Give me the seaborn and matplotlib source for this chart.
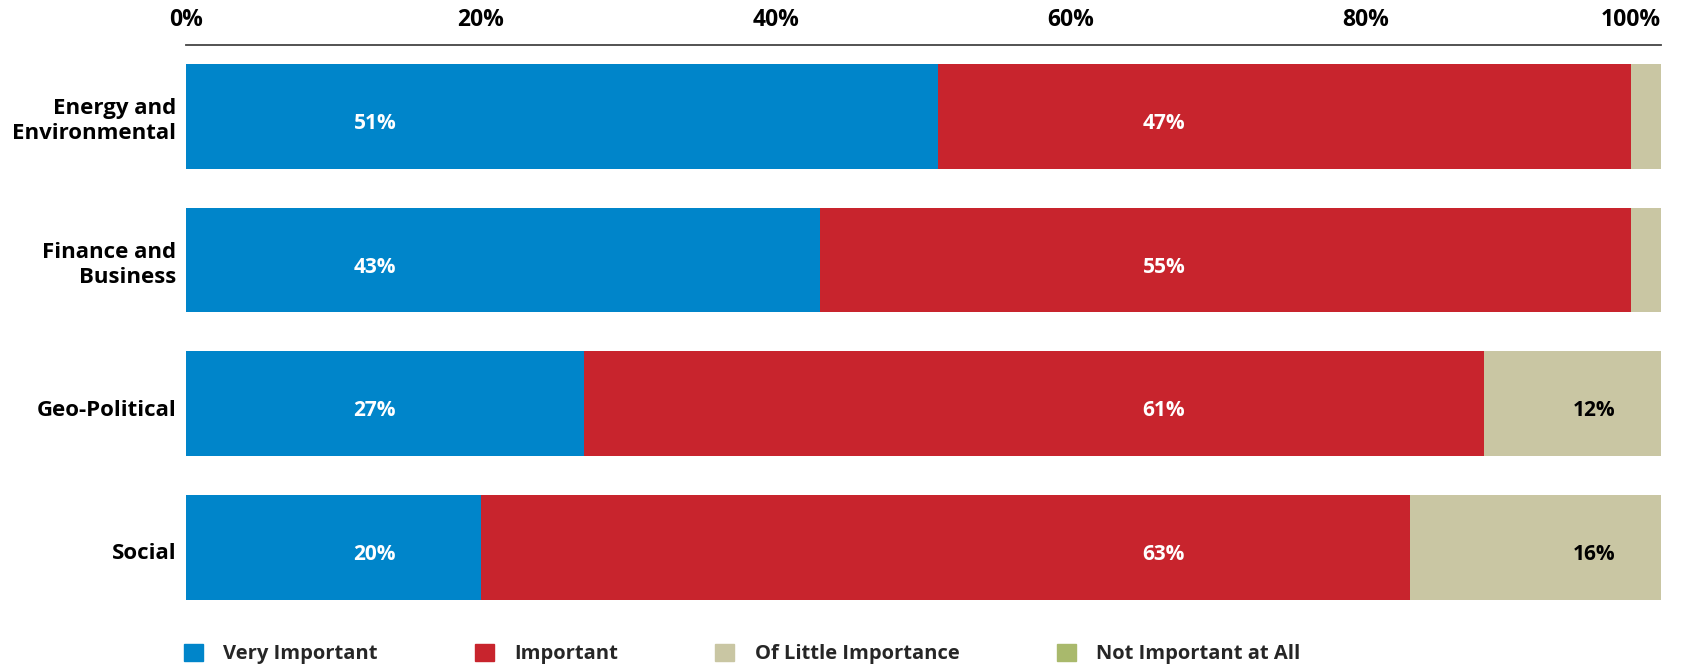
import matplotlib
matplotlib.use("Agg")
import matplotlib.pyplot as plt
import matplotlib.transforms as mtransforms
import seaborn as sns
import pandas as pd
import numpy as np
from matplotlib.patches import Patch

categories = ["Energy and\nEnvironmental", "Finance and\nBusiness", "Geo-Political", "Social"]
very_important = [51, 43, 27, 20]
important = [47, 55, 61, 63]
little_importance = [2, 2, 12, 17]
not_important = [0, 0, 0, 0]
series_names = ["Very Important", "Important", "Of Little Importance", "Not Important at All"]
colors = ["#0085CA", "#C8242D", "#C9C6A3", "#A9B96C"]
label_very = ["51%", "43%", "27%", "20%"]
label_imp = ["47%", "55%", "61%", "63%"]
label_little = ["", "", "12%", "16%"]
tick_vals = [0, 20, 40, 60, 80, 100]
tick_labels = ["0%", "20%", "40%", "60%", "80%", "100%"]

sns.set_theme(style="white")
plt.rcParams['font.family'] = ['Open Sans', 'DejaVu Sans']
plt.rcParams['font.weight'] = 'bold'

df = pd.DataFrame({
    "cat": categories,
    "v": very_important,
    "i": important,
    "l": little_importance,
    "n": not_important,
})
df["c1"] = df["v"]
df["c2"] = df["c1"] + df["i"]
df["c3"] = df["c2"] + df["l"]
df["c4"] = df["c3"] + df["n"]

fig = plt.figure(figsize=(17.07, 6.67), dpi=100)
ax = fig.add_axes([0.109, 0.072, 0.973 - 0.109, 0.933 - 0.072])

for col, colr in zip(["c4", "c3", "c2", "c1"], [colors[3], colors[2], colors[1], colors[0]]):
    sns.barplot(data=df, x=col, y="cat", orient="h", color=colr, width=0.73,
                saturation=1, ax=ax, linewidth=0, edgecolor=colr)

dy = 0.05
for idx in range(len(categories)):
    ax.text(12.8, idx + dy, label_very[idx], color="white", ha="center", va="center",
            fontsize=15, fontweight="bold")
    ax.text(66.3, idx + dy, label_imp[idx], color="white", ha="center", va="center",
            fontsize=15, fontweight="bold")
    if label_little[idx]:
        ax.text(95.5, idx + dy, label_little[idx], color="black", ha="center", va="center",
                fontsize=15, fontweight="bold")

ax.set_xlim(0, 100)
ax.set_ylim(3.5, -0.5)
ax.xaxis.tick_top()
ax.set_xticks(tick_vals)
ax.set_xticklabels(tick_labels, fontsize=16.5, fontweight="bold", color="black")
ax.get_xticklabels()[-1].set_ha("right")
ax.tick_params(axis="x", length=0, pad=9)
ax.tick_params(axis="y", length=0, pad=7)
for lab in ax.get_yticklabels():
    lab.set_fontsize(16)
    lab.set_fontweight("bold")
    lab.set_color("black")
    lab.set_ha("right")
    lab.set_linespacing(1.25)
    if "\n" not in lab.get_text():
        lab.set_transform(lab.get_transform() +
                          mtransforms.ScaledTranslation(0, -4 / 100, fig.dpi_scale_trans))
ax.set_xlabel("")
ax.set_ylabel("")
for s in ["left", "right", "bottom"]:
    ax.spines[s].set_visible(False)
ax.spines["top"].set_visible(True)
ax.spines["top"].set_color("#444444")
ax.spines["top"].set_linewidth(1.3)
ax.grid(False)

handles = [Patch(facecolor=c, edgecolor=c) for c in colors]
leg = fig.legend(handles, series_names, loc="center left", bbox_to_anchor=(0.103, 0.0195),
                 ncol=4, frameon=False, fontsize=14.5, handlelength=0.95, handleheight=0.95,
                 handletextpad=1.0, columnspacing=4.83, borderaxespad=0)
for t in leg.get_texts():
    t.set_fontweight("bold")

fig.savefig("out.png", dpi=100)
